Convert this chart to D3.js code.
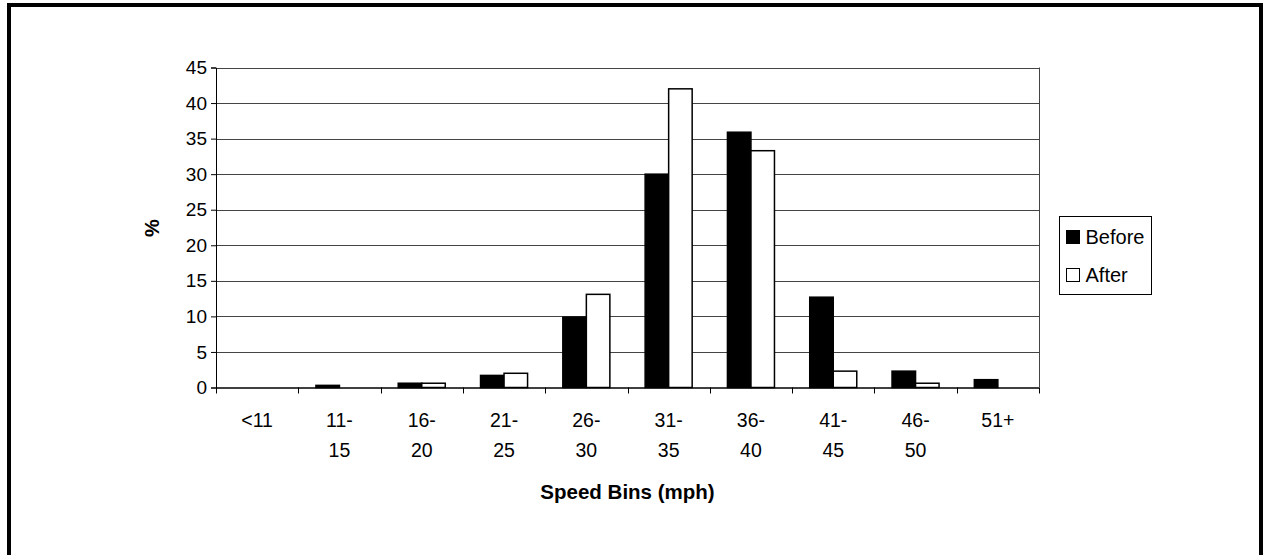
<!DOCTYPE html>
<html>
<head>
<meta charset="utf-8">
<script src="https://cdn.jsdelivr.net/npm/d3@7"></script>
<style>
    body { margin: 0; background: #fff; }
    svg { display: block; font-family: "Liberation Sans", Arial, sans-serif; }
</style>
</head>
<body>
<div id="chart"></div>
<script>
// speed bins, two lines per label as in the original
var categories = ["<11", "11-15", "16-20", "21-25", "26-30", "31-35", "36-40", "41-45", "46-50", "51+"];
var categoryLines = [["<11"], ["11-", "15"], ["16-", "20"], ["21-", "25"], ["26-", "30"],
    ["31-", "35"], ["36-", "40"], ["41-", "45"], ["46-", "50"], ["51+"]];
var seriesNames = ["Before", "After"];
var beforeValues = [0, 0.3, 0.6, 1.7, 9.9, 30.0, 35.9, 12.7, 2.3, 1.1];
var afterValues = [0, 0, 0.6, 2.0, 13.1, 42.0, 33.3, 2.3, 0.6, 0];
var yTicks = [0, 5, 10, 15, 20, 25, 30, 35, 40, 45];

var width = 1264, height = 555;
var plot = {left: 216, right: 1039, top: 67.5, bottom: 387.5};

var svg = d3.select("#chart").append("svg")
    .attr("width", width)
    .attr("height", height);

// outer frame (bottom edge runs off the page)
svg.append("rect")
    .attr("x", 9).attr("y", 5)
    .attr("width", 1252).attr("height", 600)
    .attr("fill", "none")
    .attr("stroke", "#000")
    .attr("stroke-width", 4);

var x0 = d3.scaleBand().domain(categories).range([plot.left, plot.right]);
var barW = x0.bandwidth() / 3.5;
var x1 = d3.scaleBand().domain(seriesNames)
    .range([(x0.bandwidth() - 2 * barW) / 2, (x0.bandwidth() + 2 * barW) / 2]);
var y = d3.scaleLinear().domain([0, 45]).range([plot.bottom, plot.top]);

// gridlines
svg.append("g")
    .selectAll("line")
    .data(yTicks.slice(1))
    .enter().append("line")
    .attr("x1", plot.left).attr("x2", plot.right)
    .attr("y1", function (d) { return Math.round(y(d)) + 0.5; })
    .attr("y2", function (d) { return Math.round(y(d)) + 0.5; })
    .attr("stroke", "#444")
    .attr("stroke-width", 1);

// right edge of the plot area
svg.append("line")
    .attr("x1", plot.right + 0.5).attr("x2", plot.right + 0.5)
    .attr("y1", plot.top).attr("y2", plot.bottom)
    .attr("stroke", "#444");

// y axis
var yAxis = svg.append("g")
    .attr("transform", "translate(" + plot.left + ",0)")
    .call(d3.axisLeft(y).tickValues(yTicks).tickSize(5).tickPadding(4));
yAxis.select(".domain").attr("stroke", "#000");
yAxis.selectAll("text")
    .attr("font-size", 19)
    .attr("fill", "#000")
    .attr("font-family", "Liberation Sans, Arial, sans-serif");

// x axis: ticks at bin boundaries
var xAxis = svg.append("g").attr("class", "x-axis");
xAxis.append("line")
    .attr("x1", plot.left).attr("x2", plot.right)
    .attr("y1", plot.bottom + 0.5).attr("y2", plot.bottom + 0.5)
    .attr("stroke", "#000").attr("stroke-width", 1.5);
var bounds = categories.map(function (c) { return x0(c); }).concat([plot.right]);
xAxis.selectAll("line.tick")
    .data(bounds)
    .enter().append("line")
    .attr("class", "tick")
    .attr("x1", function (d) { return Math.round(d) + 0.5; })
    .attr("x2", function (d) { return Math.round(d) + 0.5; })
    .attr("y1", plot.bottom).attr("y2", plot.bottom + 6)
    .attr("stroke", "#000");

var labels = xAxis.selectAll("text.cat")
    .data(categories)
    .enter().append("text")
    .attr("class", "cat")
    .attr("text-anchor", "middle")
    .attr("font-size", 19.5)
    .attr("x", function (d) { return x0(d) + x0.bandwidth() / 2; })
    .attr("y", 427);
labels.selectAll("tspan")
    .data(function (d, i) { return categoryLines[i]; })
    .enter().append("tspan")
    .attr("x", function () { return d3.select(this.parentNode).attr("x"); })
    .attr("dy", function (d, i) { return i === 0 ? 0 : 30; })
    .text(function (d) { return d; });

// bars
var rows = categories.map(function (c, i) {
    return {cat: c, values: [beforeValues[i], afterValues[i]]};
});
var fills = {Before: "#000", After: "#fff"};
var groups = svg.append("g").selectAll("g")
    .data(rows)
    .enter().append("g")
    .attr("transform", function (d) { return "translate(" + x0(d.cat) + ",0)"; });
groups.selectAll("rect")
    .data(function (d) {
        return seriesNames.map(function (s, k) { return {name: s, value: d.values[k]}; });
    })
    .enter().append("rect")
    .filter(function (d) { return d.value > 0; })
    .attr("x", function (d) { return x1(d.name); })
    .attr("width", x1.bandwidth())
    .attr("y", function (d) { return y(d.value); })
    .attr("height", function (d) { return y(0) - y(d.value); })
    .attr("fill", function (d) { return fills[d.name]; })
    .attr("stroke", "#000")
    .attr("stroke-width", 1.5);

// axis titles
svg.append("text")
    .attr("x", (plot.left + plot.right) / 2)
    .attr("y", 499)
    .attr("text-anchor", "middle")
    .attr("font-size", 20.5)
    .attr("font-weight", "bold")
    .text("Speed Bins (mph)");

svg.append("text")
    .attr("transform", "translate(159,228) rotate(-90)")
    .attr("text-anchor", "middle")
    .attr("font-size", 20)
    .attr("font-weight", "bold")
    .text("%");

// legend
var legend = svg.append("g").attr("transform", "translate(1059.5,216.5)");
legend.append("rect")
    .attr("width", 92).attr("height", 78)
    .attr("fill", "#fff")
    .attr("stroke", "#000");
var items = legend.selectAll("g")
    .data(seriesNames)
    .enter().append("g")
    .attr("transform", function (d, i) { return "translate(7," + (14 + i * 38) + ")"; });
items.append("rect")
    .attr("width", 13).attr("height", 13)
    .attr("fill", function (d) { return fills[d]; })
    .attr("stroke", "#000");
items.append("text")
    .attr("x", 19).attr("y", 13.5)
    .attr("font-size", 20)
    .text(function (d) { return d; });
</script>
</body>
</html>
